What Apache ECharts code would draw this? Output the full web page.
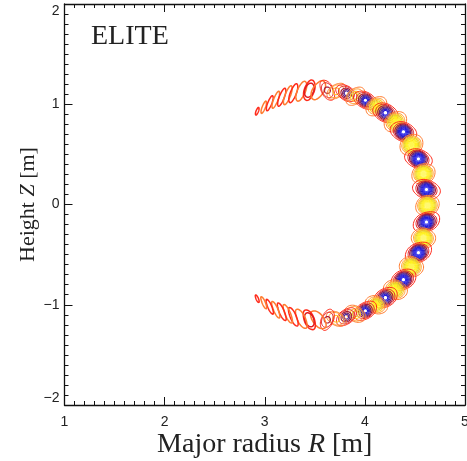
<!DOCTYPE html>
<html><head><meta charset="utf-8">
<style>html,body{margin:0;padding:0;background:#fff}#c{width:467px;height:461px}</style>
<script src="https://cdn.jsdelivr.net/npm/echarts@6/dist/echarts.min.js"></script>
</head><body><div id="c"></div>
<script>
// Lobes, from the top-left tail round to the bottom-left tail
const lobeR = [2.925,2.99,3.05,3.11,3.17,3.23,3.285,3.365,3.445,3.535,3.625,3.715,3.815,3.905,4.005,4.115,4.205,4.305,4.385,4.465,4.535,4.585,4.615,4.625,
               4.615,4.585,4.535,4.465,4.385,4.305,4.205,4.115,4.005,3.905,3.815,3.715,3.625,3.535,3.445,3.365,3.285,3.23,3.17,3.11,3.05,2.99,2.925];
const lobeZ = [0.93,0.97,1.01,1.045,1.07,1.09,1.11,1.13,1.14,1.14,1.14,1.13,1.11,1.08,1.04,0.98,0.915,0.825,0.725,0.595,0.455,0.305,0.15,-0.01,
               -0.175,-0.335,-0.48,-0.62,-0.75,-0.85,-0.93,-1.0,-1.06,-1.09,-1.12,-1.14,-1.15,-1.15,-1.15,-1.14,-1.12,-1.09,-1.07,-1.05,-1.02,-0.98,-0.94];
const lobeLong = [0.04,0.065,0.08,0.09,0.095,0.1,0.1,0.105,0.105,0.105,0.11,0.105,0.115,0.11,0.125,0.115,0.13,0.12,0.135,0.12,0.14,0.12,0.14,0.12,
                  0.14,0.12,0.14,0.12,0.135,0.12,0.13,0.115,0.125,0.11,0.115,0.105,0.11,0.105,0.105,0.105,0.1,0.1,0.095,0.09,0.08,0.065,0.04];
const lobeShort = [0.012,0.016,0.02,0.022,0.025,0.027,0.03,0.04,0.05,0.055,0.06,0.065,0.07,0.075,0.08,0.085,0.09,0.095,0.095,0.1,0.095,0.1,0.095,0.1,
                   0.095,0.1,0.095,0.1,0.095,0.095,0.09,0.085,0.08,0.075,0.07,0.065,0.06,0.055,0.05,0.04,0.03,0.027,0.025,0.022,0.02,0.016,0.012];
const lobeTilt = [68,68,68,68,68,68,68,66,70,55,-65,30,-35,35,-30,30,-28,25,-25,20,-22,15,-20,10,
                  20,-15,22,-20,25,-25,28,-30,30,-35,35,-30,65,-55,-70,-66,-68,-68,-68,-68,-68,-68,-68];
const lobeSign = [1,-1,1,-1,1,-1,1,-1,1,-1,1,-1,1,-1,1,-1,1,-1,1,-1,1,-1,1,-1,
                  1,-1,1,-1,1,-1,1,-1,1,-1,1,-1,1,-1,1,-1,1,-1,1,-1,1,-1,1];
const lobePeak = [0.09,0.09,0.1,0.1,0.1,0.1,0.11,0.11,0.2,0.12,0.28,0.22,0.45,0.4,0.7,0.7,0.8,0.85,0.95,0.95,1,1,1,1,
                  1,1,1,0.95,0.95,0.85,0.8,0.7,0.7,0.4,0.45,0.22,0.28,0.12,0.2,0.11,0.11,0.1,0.1,0.1,0.1,0.09,0.09];
const xTicks = [1,2,3,4,5];
const yTicks = [-2,-1,0,1,2];
const lobes = lobeR.map((r,i)=>[r,lobeZ[i],lobeLong[i],lobeShort[i],lobeTilt[i],lobeSign[i],lobePeak[i]]);

const posLevels = [[0.08,'#ff2a1a'],[0.14,'#e01c20'],[0.2,'#a81838'],[0.3,'#6c2070'],[0.42,'#4a2aa0'],[0.55,'#2c20c8'],[0.68,'#2418d8'],[0.8,'#2a20e0'],[0.9,'#3030e8'],[0.97,'#5050f0']];
const negLevels = [[0.08,'#ff7c30'],[0.14,'#ffa030'],[0.2,'#ffc830'],[0.3,'#e8d428'],[0.42,'#f4e428'],[0.55,'#fff020'],[0.68,'#fff020'],[0.8,'#fff430'],[0.9,'#fff650'],[0.97,'#fff870']];

function renderLobe(params, api){
  const R=api.value(0),Z=api.value(1),a=api.value(2),b=api.value(3),tilt=api.value(4)*Math.PI/180,sign=api.value(5),peak=api.value(6);
  const levels = (sign>0?posLevels:negLevels).filter(l=>l[0]<peak);
  const count = levels.length;
  const children=[];
  levels.forEach(([lv,col],i)=>{
    const k= i===0?1:(0.88-0.74*(i-1)/Math.max(count-1,1));
    const bk=b*k, ak=bk+(a-b)*Math.pow(k,5);
    const wing=i===0?0.12:0.03;
    const pts=[];
    for(let n=0;n<44;n++){
      const t=n/44*2*Math.PI;
      const c=Math.cos(t);
      const u=ak*c, v=bk*Math.sin(t)+wing*bk*c*c*c;
      pts.push(api.coord([R+u*Math.cos(tilt)-v*Math.sin(tilt), Z+u*Math.sin(tilt)+v*Math.cos(tilt)]));
    }
    const isCore = sign<0 && i===count-1 && count>5;
    children.push({type:'polygon',shape:{points:pts},style:{fill:isCore?col:'none',stroke:col,lineWidth:count<3?1.5:(i<2?1:1.15)}});
  });
  return {type:'group',children};
}

const tickStyle={color:'#111',width:1};
const serif='"Liberation Serif"';
function xAxis(pos,show){return {type:'value',position:pos,min:1,max:5,interval:1,
  axisLine:{show:true,onZero:false,lineStyle:{color:'#111',width:1.3}},
  axisTick:{show:true,inside:true,length:8,lineStyle:tickStyle},
  minorTick:{show:true,splitNumber:10,length:4,lineStyle:tickStyle},
  splitLine:{show:false},minorSplitLine:{show:false},
  axisLabel:{show:show,margin:10,color:'#222',fontFamily:'"Liberation Sans"',fontSize:14,showMinLabel:true,showMaxLabel:true,hideOverlap:false},
  name:show?'{a|Major radius }{i|R}{a| [m]}':'',nameLocation:'middle',nameGap:26,nameMoveOverlap:false,
  nameTextStyle:{rich:{a:{fontFamily:serif,fontSize:28,color:'#222'},i:{fontFamily:serif,fontStyle:'italic',fontSize:28,color:'#222'}}}};}
function yAxis(pos,show){return {type:'value',position:pos,min:-2,max:2,interval:1,
  axisLine:{show:true,onZero:false,lineStyle:{color:'#111',width:1.3}},
  axisTick:{show:true,inside:true,length:8,lineStyle:tickStyle},
  minorTick:{show:true,splitNumber:10,length:4,lineStyle:tickStyle},
  splitLine:{show:false},minorSplitLine:{show:false},
  axisLabel:{show:show,margin:5,color:'#222',fontFamily:'"Liberation Sans"',fontSize:14,showMinLabel:true,showMaxLabel:true,hideOverlap:false,
    verticalAlignMaxLabel:'top',verticalAlignMinLabel:'bottom',
    formatter:v=>String(v).replace('-','\u2212')},
  name:show?'{a|Height }{i|Z}{a| [m]}':'',nameLocation:'middle',nameGap:25,nameMoveOverlap:false,
  nameTextStyle:{rich:{a:{fontFamily:serif,fontSize:22,color:'#222'},i:{fontFamily:serif,fontStyle:'italic',fontSize:22,color:'#222'}}}};}

const chart=echarts.init(document.getElementById('c'),null,{renderer:'canvas'});
chart.setOption({
  animation:false,backgroundColor:'#fff',
  title:{text:'ELITE',left:91,top:23,padding:0,textStyle:{fontFamily:serif,fontWeight:'normal',fontSize:28,color:'#222'}},
  grid:{left:64.5,top:4,width:400.5,height:401,containLabel:false,outerBoundsMode:'none'},
  xAxis:[xAxis('bottom',true),xAxis('top',false)],
  yAxis:[yAxis('left',true),yAxis('right',false)],
  series:[{type:'custom',coordinateSystem:'cartesian2d',renderItem:renderLobe,data:lobes,clip:false,
    encode:{x:0,y:1},silent:true}]
});
</script></body></html>
